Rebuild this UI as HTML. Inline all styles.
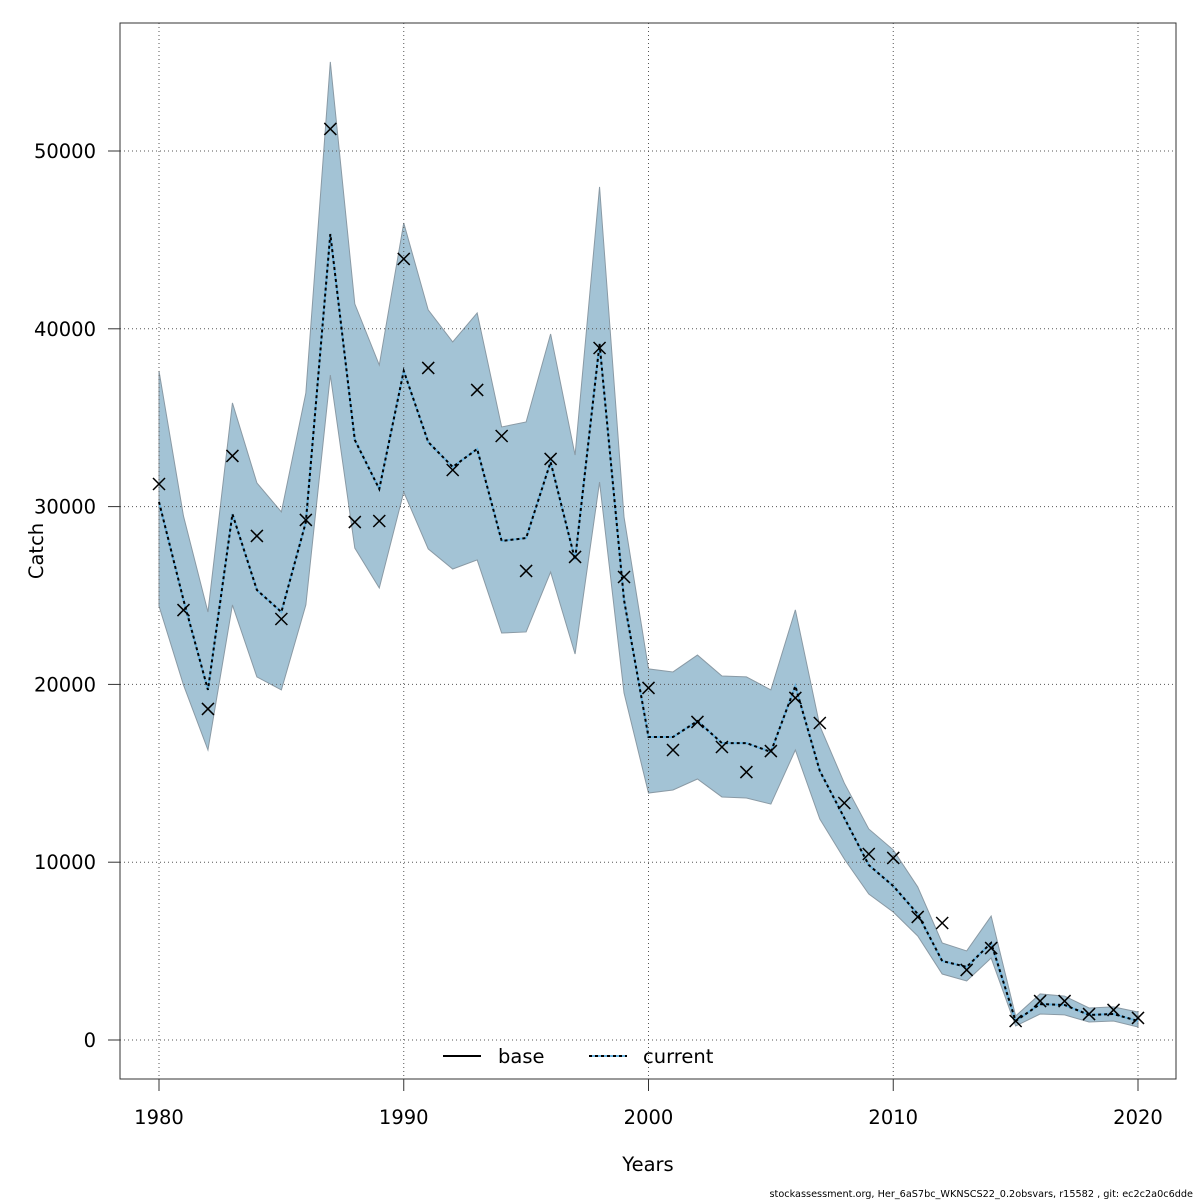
<!DOCTYPE html>
<html><head><meta charset="utf-8"><style>
body{margin:0;background:#fff}
svg{display:block;font-family:"DejaVu Sans","Liberation Sans",sans-serif}
</style></head><body>
<svg id="chart" width="1200" height="1200" viewBox="0 0 1200 1200">
<rect x="0" y="0" width="1200" height="1200" fill="#fff"/>
<g id="band"></g>
<g id="grid"></g>
<g id="lines"></g>
<g id="points"></g>
<g id="axes"></g>
<rect x="120" y="23" width="1056" height="1056" fill="none" stroke="#333" stroke-width="1"/>
<text x="648" y="1171" font-size="19.5" text-anchor="middle">Years</text>
<text transform="translate(43,551) rotate(-90)" font-size="19.5" text-anchor="middle">Catch</text>
<g>
<line x1="443" y1="1056" x2="481" y2="1056" stroke="#000" stroke-width="2"/>
<text x="498" y="1063" font-size="19.5">base</text>
<line x1="589" y1="1056" x2="627" y2="1056" stroke="#6ab4e0" stroke-width="2"/>
<line x1="589" y1="1056" x2="627" y2="1056" stroke="#000" stroke-width="2" stroke-dasharray="3,3"/>
<text x="643" y="1063" font-size="19.5">current</text>
</g>
<text x="1193" y="1197" font-size="9.7" text-anchor="end">stockassessment.org, Her_6aS7bc_WKNSCS22_0.2obsvars, r15582 , git: ec2c2a0c6dde</text>
</svg>
<script>
const years=[1980,1981,1982,1983,1984,1985,1986,1987,1988,1989,1990,1991,1992,1993,1994,1995,1996,1997,1998,1999,2000,2001,2002,2003,2004,2005,2006,2007,2008,2009,2010,2011,2012,2013,2014,2015,2016,2017,2018,2019,2020];
const observed=[31270,24180,18620,32850,28350,23680,29250,51240,29130,29190,43930,37800,32060,36560,33970,26380,32680,27170,38920,26040,19800,16310,17890,16480,15070,16250,19240,17830,13330,10460,10240,6920,6580,3940,5170,1070,2190,2190,1460,1690,1240];
const estimate=[30260,24750,19690,29580,25310,24070,29130,45330,33750,30990,37630,33630,32230,33240,28070,28230,32510,27000,39150,24750,17040,17040,17940,16700,16700,16200,19910,15130,12490,9840,8660,7090,4440,4110,5460,1070,2020,1970,1410,1460,1070];
const upper=[37630,29470,24070,35830,31330,29700,36390,55010,41400,37960,45950,41060,39260,40890,34480,34760,39710,32900,47980,29420,20870,20700,21650,20470,20420,19690,24190,17660,14450,11870,10690,8610,5460,5010,6970,1350,2590,2470,1800,1860,1570];
const lower=[24410,19970,16310,24470,20420,19690,24470,37400,27670,25420,30820,27620,26490,27000,22890,22950,26320,21710,31380,19520,13890,14060,14680,13670,13610,13270,16310,12430,10180,8210,7200,5850,3710,3320,4610,790,1460,1410,1010,1070,730];
const xTicks=[1980,1990,2000,2010,2020];
const yTicks=[0,10000,20000,30000,40000,50000];

const NS='http://www.w3.org/2000/svg';
const sx=v=>159+(v-1980)*(1138-159)/40;
const sy=v=>1040-v*(1040-151)/50000;
function mk(tag,attrs,parent){const e=document.createElementNS(NS,tag);for(const k in attrs)e.setAttribute(k,attrs[k]);parent.appendChild(e);return e;}
const grid=document.getElementById('grid'),axes=document.getElementById('axes');
xTicks.forEach(t=>{
 const g=mk('line',{x1:sx(t),x2:sx(t),y1:23,y2:1079,stroke:'#555','stroke-width':1,'stroke-dasharray':'1,3'},grid);
 
 
 const tk=mk('line',{x1:sx(t),x2:sx(t),y1:1079,y2:1091,stroke:'#333'},axes);
 
 
 const tx=mk('text',{x:sx(t),y:1124,'font-size':19.5,'text-anchor':'middle'},axes);
 tx.textContent=t;
 
 
});
yTicks.forEach(t=>{
 const g=mk('line',{x1:120,x2:1176,y1:sy(t),y2:sy(t),stroke:'#555','stroke-width':1,'stroke-dasharray':'1,3'},grid);
 
 
 const tk=mk('line',{x1:108,x2:120,y1:sy(t),y2:sy(t),stroke:'#333'},axes);
 
 
 const tx=mk('text',{x:96,y:sy(t)+7,'font-size':19.5,'text-anchor':'end'},axes);
 tx.textContent=t;
 
 
});
let d='';
years.forEach((y,i)=>{d+=(i?'L':'M')+sx(y)+','+sy(upper[i]);});
for(let i=years.length-1;i>=0;i--)d+='L'+sx(years[i])+','+sy(lower[i]);
d+='Z';
const band=mk('path',{d:d,fill:'#a3c3d5',stroke:'#8a9aa5','stroke-width':1},document.getElementById('band'));


const pts=years.map((y,i)=>sx(y)+','+sy(estimate[i])).join(' ');
const lines=document.getElementById('lines');
const b=mk('polyline',{points:pts,fill:'none',stroke:'#6ab4e0','stroke-width':2},lines);


const c=mk('polyline',{points:pts,fill:'none',stroke:'#000','stroke-width':2,'stroke-dasharray':'3,3'},lines);


const pg=document.getElementById('points');
years.forEach((y,i)=>{
 const x=sx(y),yy=sy(observed[i]),r=6;
 const p=mk('path',{d:`M${x-r},${yy-r}L${x+r},${yy+r}M${x-r},${yy+r}L${x+r},${yy-r}`,stroke:'#000','stroke-width':1.5,fill:'none'},pg);
 
 
});
</script>
</body></html>
